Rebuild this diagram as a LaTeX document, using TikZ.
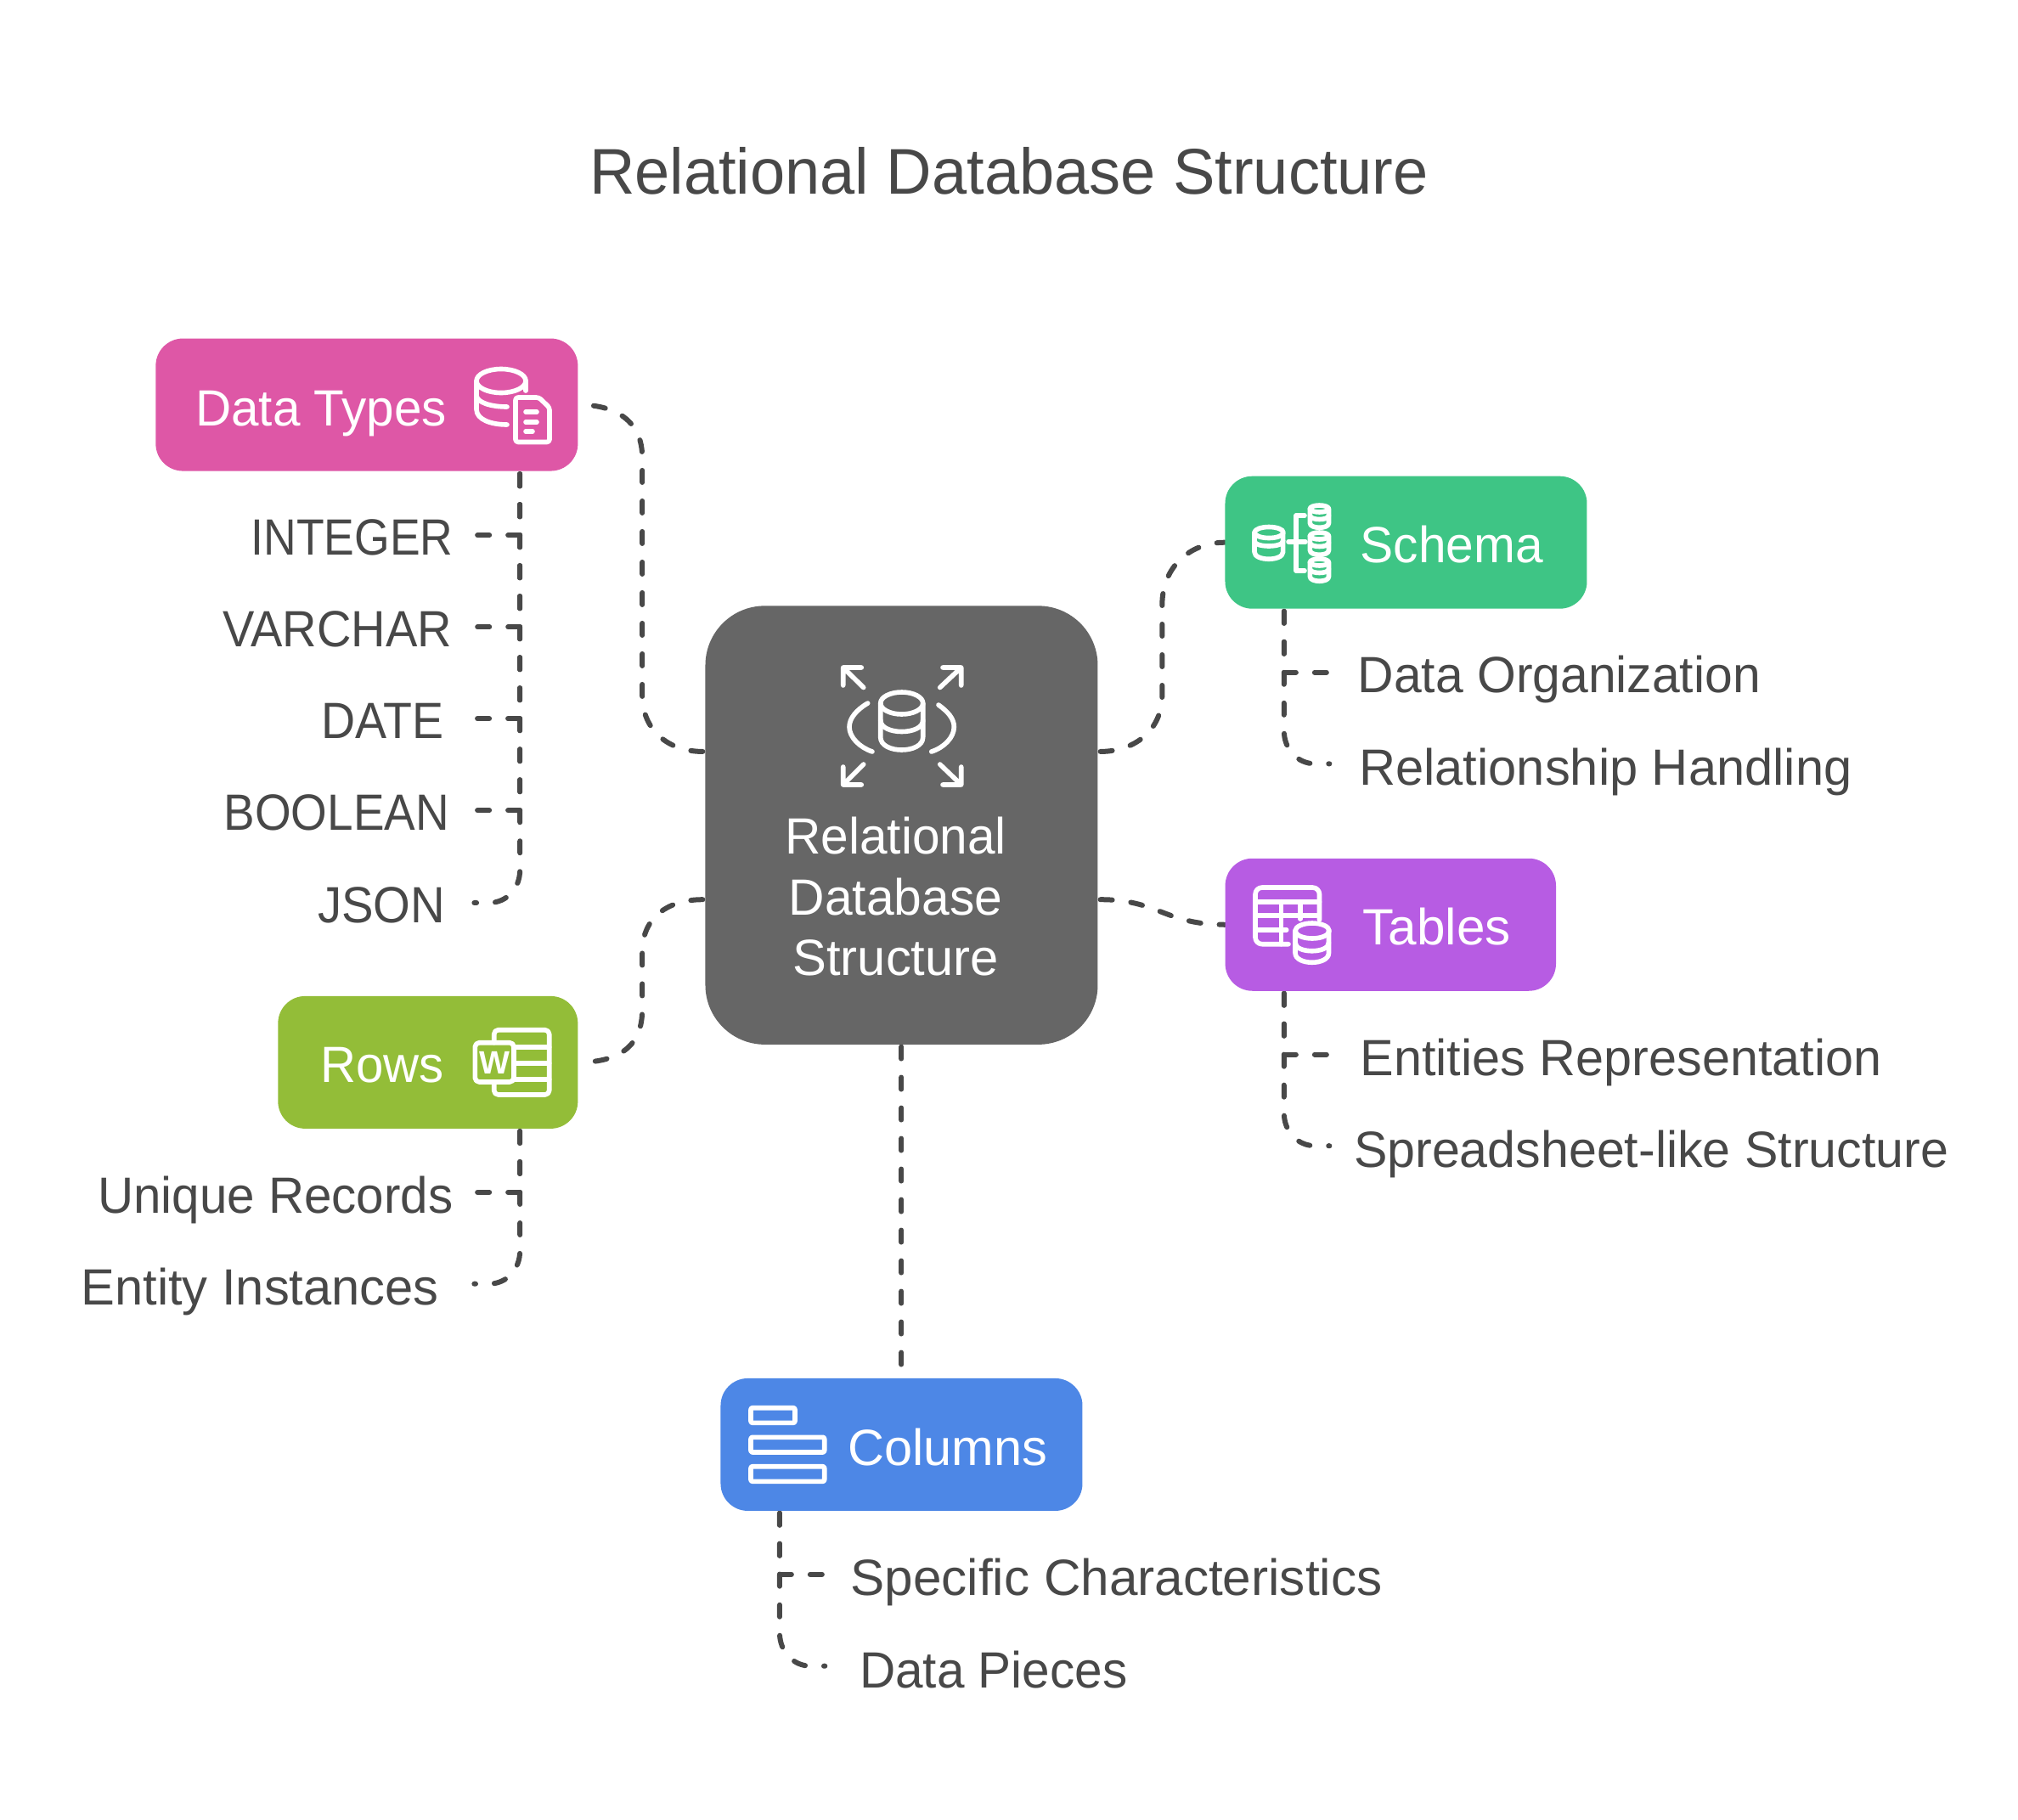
\documentclass[tikz,border=0pt]{standalone}
\usepackage{graphicx}
\usepackage{fontspec}
\setmainfont{Liberation Sans}
\usetikzlibrary{backgrounds}
\definecolor{ink}{HTML}{484848}
\definecolor{cpink}{HTML}{DE57A6}
\definecolor{cgreen}{HTML}{3EC585}
\definecolor{cpurple}{HTML}{B75CE3}
\definecolor{clime}{HTML}{93BD38}
\definecolor{cblue}{HTML}{4D87E6}
\definecolor{cgray}{HTML}{666666}
\newcommand{\fitw}[2]{\resizebox{\dimexpr #1pt*15153/10000\relax}{\height}{#2}}
\tikzset{
  box/.style={draw=none,inner sep=0pt,minimum height=156pt,rounded corners=32pt},
  lab/.style={anchor=base,inner sep=0pt,text=ink,font=\fontsize{60}{72}\selectfont},
  wlab/.style={anchor=base,inner sep=0pt,text=white,font=\fontsize{60}{72}\selectfont},
  link/.style={draw=ink,line width=6pt,line cap=round,dash pattern=on 14pt off 22pt},
  ico/.style={draw=white,line width=5.6pt,line cap=round,line join=round},
}
\begin{document}
\begin{tikzpicture}[x=1.5153pt,y=-1.5153pt]
\useasboundingbox (0,0) rectangle (1568,1413.6);
% title
\node[lab,font=\fontsize{76}{88}\selectfont] (title) at (784,151) {\fitw{652}{Relational Database Structure}};
% boxes
\node[box,fill=cpink,minimum width=497pt] (dt) at (285,314.5) {};
\node[box,fill=clime,minimum width=353pt] (rows) at (332.5,825.5) {};
\node[box,fill=cgray,minimum width=462pt,minimum height=516.5pt,rounded corners=70pt] (center) at (700.5,641.2) {};
\node[box,fill=cgreen,minimum width=426pt] (schema) at (1092.5,421.5) {};
\node[box,fill=cpurple,minimum width=389.4pt] (tables) at (1080.5,718.5) {};
\node[box,fill=cblue,minimum width=426pt] (columns) at (700.5,1122.5) {};
% box labels
\node[wlab] (tdt) at (249.5,330.7) {\fitw{195}{Data Types}};
\node[wlab] (trows) at (297,841.4) {\fitw{96}{Rows}};
\node[wlab] (tschema) at (1128,437.3) {\fitw{142}{Schema}};
\node[wlab] (ttables) at (1116.5,734.3) {\fitw{115}{Tables}};
\node[wlab] (tcolumns) at (736.5,1139) {\fitw{155}{Columns}};
\node[wlab] (tc1) at (696,663.6) {\fitw{172}{Relational}};
\node[wlab] (tc2) at (696,711) {\fitw{166}{Database}};
\node[wlab] (tc3) at (696,758) {\fitw{160}{Structure}};
% leaf labels
\node[lab] (l1) at (273.5,431.3) {\fitw{157}{INTEGER}};
\node[lab] (l2) at (262,502.8) {\fitw{178}{VARCHAR}};
\node[lab] (l3) at (297.5,574) {\fitw{95}{DATE}};
\node[lab] (l4) at (261.5,645.4) {\fitw{175}{BOOLEAN}};
\node[lab] (l5) at (296.5,716.8) {\fitw{99}{JSON}};
\node[lab] (l6) at (214,942.5) {\fitw{276}{Unique Records}};
\node[lab] (l7) at (202,1014) {\fitw{278}{Entity Instances}};
\node[lab] (l8) at (1211.5,538.4) {\fitw{313}{Data Organization}};
\node[lab] (l9) at (1247.5,609.8) {\fitw{383}{Relationship Handling}};
\node[lab] (l10) at (1259.5,836) {\fitw{405}{Entities Representation}};
\node[lab] (l11) at (1283,907) {\fitw{462}{Spreadsheet-like Structure}};
\node[lab] (l12) at (867.5,1239.8) {\fitw{413}{Specific Characteristics}};
\node[lab] (l13) at (772,1311.5) {\fitw{208}{Data Pieces}};
% connector ports (the dash rhythm starts a hair off each box edge)
\coordinate (cA) at (546,584);
\coordinate (cB) at (855,584);
\coordinate (cC) at (855,699);
\coordinate (cD) at (546,699);
\coordinate (cS) at (700.5,813.4);
\coordinate (dtS) at (404,368.4);
\coordinate (rowsS) at (404,879);
\coordinate (schS) at (997.7,475);
\coordinate (tabS) at (997.7,771.9);
\coordinate (colS) at (605.8,1175.8);
\coordinate (e1) at (370.8,415.9);
\coordinate (e2) at (370.8,487.2);
\coordinate (e3) at (370.8,558.4);
\coordinate (e4) at (370.8,629.7);
\coordinate (e5) at (368.5,701.5);
\coordinate (e6) at (370.8,926.5);
\coordinate (e7) at (368.5,997.6);
\coordinate (e8) at (1030.7,522.5);
\coordinate (e9) at (1033,593.5);
\coordinate (e10) at (1030.7,819.4);
\coordinate (e11) at (1033,890.4);
\coordinate (e12) at (639.3,1223.4);
\coordinate (e13) at (641,1294.6);
\begin{scope}[on background layer]
\fill[white] (0,0) rectangle (1568,1413.6);
\draw[link] (cA) .. controls (520,584) and (499,568) .. (499,540) -- (499,355) .. controls (499,330) and (482,314.5) .. (dt.east);
\draw[link] (cB) .. controls (881,584) and (903,568) .. (903,540) -- (903,470) .. controls (903,440) and (925,421.5) .. (schema.west);
\draw[link] (cC) .. controls (900,699) and (905,718.5) .. (tables.west);
\draw[link] (cD) .. controls (520,699) and (499,712) .. (499,740) -- (499,785) .. controls (499,812) and (482,825.5) .. (rows.east);
\draw[link] (cS) -- (columns.north);
% leaves
\foreach \e in {e1,e2,e3,e4}{\draw[link] (dtS) -- (dtS |- \e) -- (\e);}
\draw[link] (dtS) -- (404,676) .. controls (404,690) and (394,701.5) .. (380,701.5) -- (e5);
\draw[link] (rowsS) -- (rowsS |- e6) -- (e6);
\draw[link] (rowsS) -- (404,972) .. controls (404,986) and (394,997.6) .. (380,997.6) -- (e7);
\draw[link] (schS) -- (schS |- e8) -- (e8);
\draw[link] (schS) -- (997.7,568) .. controls (997.7,582) and (1008,593.5) .. (1022,593.5) -- (e9);
\draw[link] (tabS) -- (tabS |- e10) -- (e10);
\draw[link] (tabS) -- (997.7,865) .. controls (997.7,879) and (1008,890.4) .. (1022,890.4) -- (e11);
\draw[link] (colS) -- (colS |- e12) -- (e12);
\draw[link] (colS) -- (605.8,1269) .. controls (605.8,1283) and (616,1294.6) .. (630,1294.6) -- (e13);
\end{scope}
% icons, in pixels of the reference
\begin{scope}[x=1pt,y=-1pt]
% data types
\draw[ico] (561,448.5) arc[x radius=29,y radius=14,start angle=180,end angle=-180];
\draw[ico] (561,448.5) -- (561,482) .. controls (561,494) and (578,500) .. (597,500);
\draw[ico] (561,466) .. controls (562,474) and (578,479) .. (597,479);
\draw[ico] (619,448.5) -- (619,460);
\draw[ico,rounded corners=3pt] (607,468) -- (634.5,468) -- (647,480) -- (647,520.5) -- (607,520.5) -- cycle;
\draw[ico] (619,485) -- (632,485) (619,497) -- (632,497) (619,508) -- (627,508);
% center
\draw[ico] (1036.7,828) arc[x radius=25,y radius=13,start angle=180,end angle=-180];
\draw[ico] (1036.7,828) -- (1036.7,868) .. controls (1036.7,888) and (1086.7,888) .. (1086.7,868) -- (1086.7,828);
\draw[ico] (1036.7,848) .. controls (1036.7,866) and (1086.7,866) .. (1086.7,848);
\draw[ico] (1021.7,828) .. controls (1008,836) and (1000,846) .. (1000,856) .. controls (1000,868) and (1012,880) .. (1027,885);
\draw[ico] (1105,830) .. controls (1116,838) and (1123.3,846) .. (1123.3,856) .. controls (1123.3,868) and (1112,880) .. (1096.7,885);
\draw[ico] (1016.7,809.5) -- (992.7,786) (1014.3,786) -- (992.7,786) -- (992.7,807);
\draw[ico] (1106.7,809.5) -- (1131.7,786) (1110,786) -- (1131.7,786) -- (1131.7,807);
\draw[ico] (1016.7,900) -- (992.7,924) (1014.3,924) -- (992.7,924) -- (992.7,903);
\draw[ico] (1106.7,900) -- (1131.7,924) (1110,924) -- (1131.7,924) -- (1131.7,903);
% schema
\draw[ico] (1477,627) arc[x radius=17,y radius=6.5,start angle=180,end angle=-180];
\draw[ico] (1477,627) -- (1477,650) .. controls (1477,661) and (1510.6,661) .. (1510.6,650) -- (1510.6,627);
\draw[ico] (1477,637) .. controls (1477,645) and (1510.6,645) .. (1510.6,637);
\foreach \y in {599,631,662}{
  \draw[ico] (1542.4,\y) arc[x radius=11,y radius=4,start angle=180,end angle=-180];
  \draw[ico] (1542.4,\y) -- (1542.4,\y+17) .. controls (1542.4,\y+24) and (1564.5,\y+24) .. (1564.5,\y+17) -- (1564.5,\y);
  \draw[ico] (1542.4,\y+8) .. controls (1542.4,\y+14) and (1564.5,\y+14) .. (1564.5,\y+8);
}
\draw[ico] (1536,607) -- (1526,607) -- (1526,672) -- (1536,672);
\draw[ico] (1517,638) -- (1537,638);
% tables
\draw[ico,rounded corners=8pt] (1517,1111.7) -- (1478,1111.7) -- (1478,1045) -- (1553.5,1045) -- (1553.5,1083);
\draw[ico] (1478,1061.7) -- (1553.5,1061.7) (1478,1078) -- (1550,1078) (1478,1095) -- (1514.7,1095);
\draw[ico] (1508.6,1061.7) -- (1508.6,1111.7) (1531,1061.7) -- (1531,1082);
\draw[ico] (1525,1096) arc[x radius=20,y radius=9,start angle=180,end angle=-180];
\draw[ico] (1525,1096) -- (1525,1122) .. controls (1525,1137) and (1564.5,1137) .. (1564.5,1122) -- (1564.5,1096);
\draw[ico] (1525,1110) .. controls (1525,1123) and (1564.5,1123) .. (1564.5,1110);
% rows
\draw[ico,rounded corners=5pt] (581.7,1227.7) -- (581.7,1212.7) -- (646.7,1212.7) -- (646.7,1289) -- (581.7,1289) -- (581.7,1274);
\draw[ico] (606.7,1232.7) -- (646.7,1232.7) (606.7,1251.7) -- (646.7,1251.7) (606.7,1270.7) -- (646.7,1270.7);
\draw[ico,rounded corners=5pt] (559.3,1227.7) rectangle (605,1274);
\node[inner sep=0pt,text=white,font=\fontsize{38}{40}\selectfont\bfseries] (wmark) at (582.2,1251) {W};
% columns
\draw[ico,rounded corners=2pt] (884,1657.7) rectangle (936,1675.3);
\draw[ico,rounded corners=2pt] (884,1692.3) rectangle (970.7,1710);
\draw[ico,rounded corners=2pt] (884,1726.7) rectangle (970.7,1744.3);
\end{scope}
\end{tikzpicture}
\end{document}
